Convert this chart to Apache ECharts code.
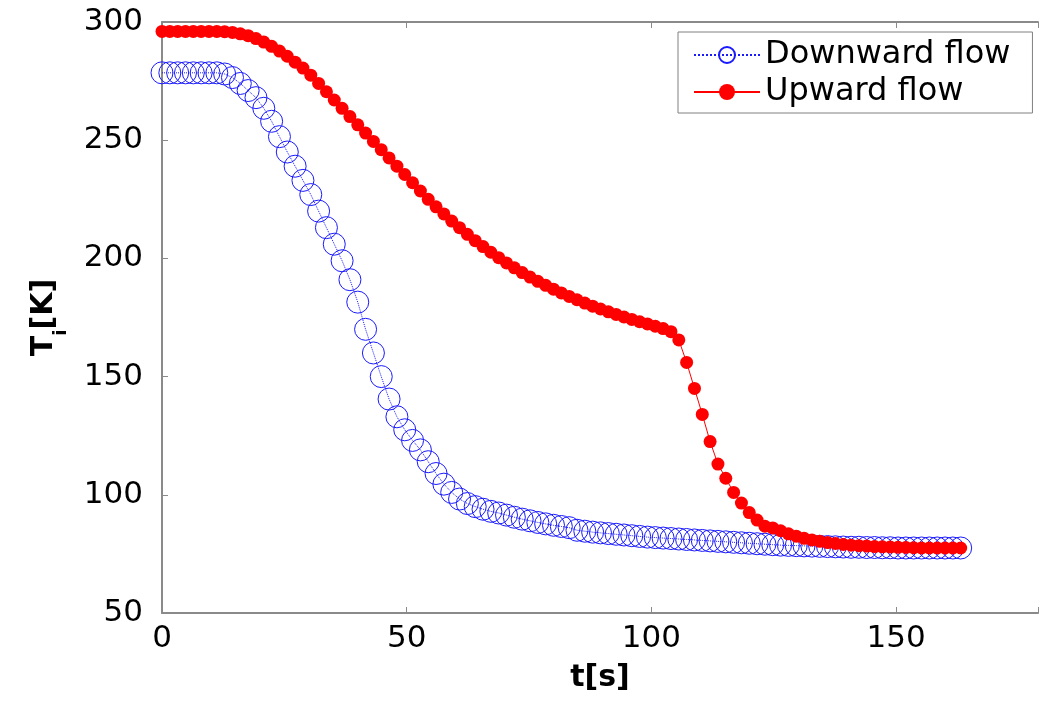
<!DOCTYPE html>
<html>
<head>
<meta charset="utf-8">
<script src="https://cdn.jsdelivr.net/npm/echarts@6/dist/echarts.min.js"></script>
<style>
html,body{margin:0;padding:0;background:#fff;}
#chart{width:1041px;height:702px;}
</style>
</head>
<body>
<div id="chart"></div>
<script>
// time samples [s]
const timeS = [0,1.6,3.2,4.8,6.4,8,9.6,11.2,12.8,14.4,16,17.6,19.2,20.8,22.4,24,25.6,27.2,28.8,30.4,32,33.6,35.2,36.8,38.4,40,41.6,43.2,44.8,46.4,48,49.6,51.2,52.8,54.4,56,57.6,59.2,60.8,62.4,64,65.6,67.2,68.8,70.4,72,73.6,75.2,76.8,78.4,80,81.6,83.2,84.8,86.4,88,89.6,91.2,92.8,94.4,96,97.6,99.2,100.8,102.4,104,105.6,107.2,108.8,110.4,112,113.6,115.2,116.8,118.4,120,121.6,123.2,124.8,126.4,128,129.6,131.2,132.8,134.4,136,137.6,139.2,140.8,142.4,144,145.6,147.2,148.8,150.4,152,153.6,155.2,156.8,158.4,160,161.6,163.2];

// Downward flow temperature [K]
const downwardT = [278.5,278.5,278.5,278.5,278.5,278.5,278.5,278.5,278,276.5,274,271,268,263.5,258,251.5,245,239,233,227,220,213,206,199,191,181.5,170,160,150,140.5,133,127.5,123,119,114,109,104.5,101,98.2,96.3,95,93.9,93,92.3,91.4,90.5,89.7,89,88.3,87.7,87.1,86.6,86.1,85,84.6,84.2,83.9,83.6,83.3,83,82.7,82.4,82.1,81.9,81.7,81.5,81.3,81.1,80.9,80.7,80.5,80.3,80.1,79.9,79.7,79.5,79.3,79.1,78.9,78.7,78.6,78.5,78.4,78.3,78.2,78.1,78,77.9,77.8,77.8,77.7,77.7,77.6,77.6,77.5,77.5,77.5,77.5,77.5,77.5,77.5,77.5,77.5];

// Upward flow temperature [K]
const upwardT = [296,296,296,296,296,296,296,296,295.9,295.6,295,294.2,293,291.5,289.7,287.7,285.5,283,280.5,277.5,274,270.5,267,263.5,260,256.5,253,249.5,246,242.5,239,235.5,232,228.5,225,221.8,218.8,215.8,213,210.2,207.5,205,202.6,200.3,198.1,196,194,192.1,190.3,188.6,187,185.4,183.9,182.5,181.1,179.8,178.6,177.4,176.3,175.2,174.2,173.2,172.3,171.3,170.3,169,165.5,156,145,134,122.5,113,107,101,96.5,92.5,89.3,86.7,86,84.8,83.5,82.5,81.6,80.9,80.3,79.8,79.4,79,78.7,78.5,78.3,78.1,78,77.9,77.8,77.7,77.6,77.5,77.5,77.5,77.5,77.5,77.5];

const xTicks = [0, 50, 100, 150];
const yTicks = [50, 100, 150, 200, 250, 300];
const seriesNames = ['Downward flow', 'Upward flow'];

function pairs(xs, ys) { return xs.map((x, i) => [x, ys[i]]); }

const FONT = 'DejaVu Sans';
const axisGrey = '#8a8a8a';

const chart = echarts.init(document.getElementById('chart'), null, {renderer: 'canvas'});
chart.setOption({
  animation: false,
  backgroundColor: '#ffffff',
  grid: {left: 162, top: 22, right: 0, bottom: 89, show: false},
  legend: {
    data: seriesNames,
    orient: 'vertical',
    left: 678, top: 32,
    padding: [5, 22, 3, 15],
    itemGap: 1,
    itemWidth: 66,
    itemHeight: 20,
    borderColor: '#808080',
    borderWidth: 1,
    backgroundColor: '#fff',
    textStyle: {fontFamily: FONT, fontSize: 32, color: '#000', lineHeight: 36}
  },
  xAxis: [{
    type: 'value', min: 0, max: 179, interval: 50,
    name: 't[s]', nameLocation: 'middle', nameGap: 50,
    nameTextStyle: {fontFamily: FONT, fontSize: 30, fontWeight: 'bold', color: '#000'},
    axisLine: {show: true, onZero: false, lineStyle: {color: axisGrey, width: 2}},
    axisTick: {show: true, inside: true, length: 6, lineStyle: {color: axisGrey}},
    axisLabel: {fontFamily: FONT, fontSize: 31, color: '#000', margin: 10,
      formatter: v => xTicks.includes(v) ? String(v) : ''},
    splitLine: {show: false}
  }, {
    type: 'value', min: 0, max: 179, interval: 50, position: 'top',
    axisLine: {show: true, onZero: false, lineStyle: {color: axisGrey, width: 2}},
    axisTick: {show: true, inside: true, length: 6, lineStyle: {color: axisGrey}},
    axisLabel: {show: false},
    splitLine: {show: false}
  }],
  yAxis: [{
    type: 'value', min: 50, max: 300, interval: 50,
    name: '{a|T}{b|i}{a|[K]}', nameLocation: 'middle', nameGap: 100,
    nameTextStyle: {
      rich: {
        a: {fontFamily: FONT, fontSize: 30, fontWeight: 'bold', color: '#000', lineHeight: 36},
        b: {fontFamily: FONT, fontSize: 18, fontWeight: 'bold', color: '#000', lineHeight: 36, verticalAlign: 'bottom', padding: [0, 0, -8, 0]}
      }
    },
    axisLine: {show: true, onZero: false, lineStyle: {color: axisGrey, width: 2}},
    axisTick: {show: true, inside: true, length: 6, lineStyle: {color: axisGrey}},
    axisLabel: {fontFamily: FONT, fontSize: 31, color: '#000', margin: 19,
      formatter: v => yTicks.includes(v) ? String(v) : ''},
    splitLine: {show: false}
  }],
  series: [{
    name: seriesNames[0],
    type: 'line',
    data: pairs(timeS, downwardT),
    symbol: 'circle',
    symbolSize: 22,
    showAllSymbol: true,
    itemStyle: {color: 'rgba(255,255,255,0)', borderColor: '#1a1aff', borderWidth: 1},
    lineStyle: {color: '#1a1aff', width: 1, type: 'dotted'},
    emphasis: {disabled: true},
    z: 2
  }, {
    name: seriesNames[1],
    type: 'line',
    data: pairs(timeS, upwardT),
    symbol: 'circle',
    symbolSize: 13,
    showAllSymbol: true,
    itemStyle: {color: '#ff0000', borderColor: '#ff0000', borderWidth: 0},
    lineStyle: {color: '#ff0000', width: 1},
    emphasis: {disabled: true},
    z: 3
  }]
});
</script>
</body>
</html>
